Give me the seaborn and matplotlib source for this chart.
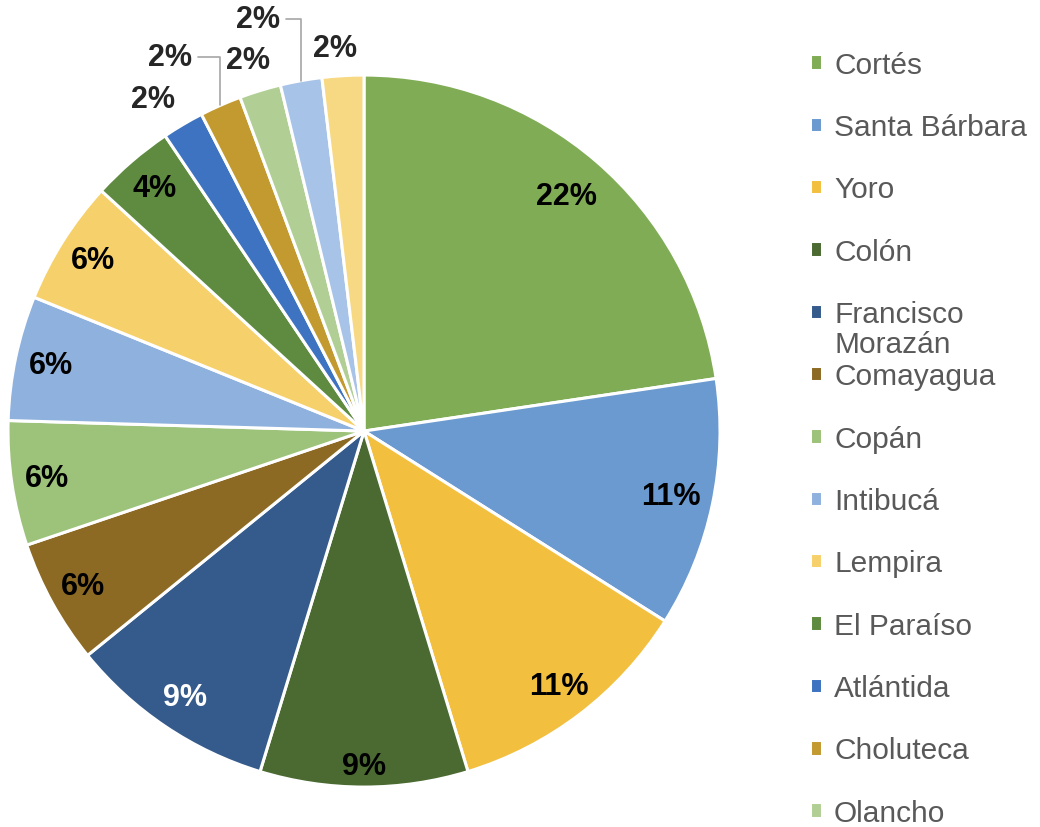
import numpy as np
import matplotlib
matplotlib.use("Agg")
import matplotlib.pyplot as plt
import seaborn as sns

# cases per department (slice sizes) and the percentages printed on the chart
departments = ["Cortés", "Santa Bárbara", "Yoro", "Colón", "Francisco Morazán",
               "Comayagua", "Copán", "Intibucá", "Lempira", "El Paraíso",
               "Atlántida", "Choluteca", "Olancho"]
cases = [12, 6, 6, 5, 5, 3, 3, 3, 3, 2, 1, 1, 1, 1, 1]
pct_labels = [22, 11, 11, 9, 9, 6, 6, 6, 6, 4, 2, 2, 2, 2, 2]

colors = ["#7fac55", "#6a9acf", "#f2bf3f", "#4b6a32", "#355b8c",
          "#8d6a24", "#9dc27a", "#8fb1de", "#f6d06a", "#5e8b3f",
          "#3d73c0", "#c39a30", "#b1cf95", "#a7c3e8", "#f8d983"]

sns.set_style("white")
plt.rcParams["font.family"] = ["Liberation Sans", "DejaVu Sans"]

fig = plt.figure(figsize=(10.4, 8.28), dpi=100)
ax = fig.add_axes([0, 0, 0.75, 1])

wedges, _ = ax.pie(cases, colors=colors, startangle=90, counterclock=False,
                   wedgeprops=dict(edgecolor="white", linewidth=2.2))
ax.set_xlim(-1.0225, 1.1685)
ax.set_ylim(-1.112, 1.2135)
ax.set_aspect("equal")
ax.axis("off")

# labels outside the small slices: index -> (radius, angle shift, leader line)
outside = {10: (1.105, 1.8, False), 11: (1.184, 3.6, True), 12: (1.092, 0.4, False),
           13: (1.195, 4.2, True), 14: (1.079, 0.9, False)}
inner_r = {0: 0.87, 1: 0.88, 3: 0.94}

for i, (w, v) in enumerate(zip(wedges, pct_labels)):
    mid = (w.theta1 + w.theta2) / 2
    txt = f"{v}%"
    if i in outside:
        r, shift, leader = outside[i]
        a = np.radians(mid + shift)
        pos = (r * np.cos(a), r * np.sin(a))
        if leader:
            m = np.radians(mid)
            ax.annotate(txt, xy=(np.cos(m), np.sin(m)), xytext=pos,
                        ha="center", va="center", fontsize=22, fontweight="bold",
                        arrowprops=dict(arrowstyle="-", color="#a6a6a6", lw=1.2,
                                        shrinkA=2, shrinkB=0,
                                        connectionstyle="angle,angleA=0,angleB=90,rad=0"))
        else:
            ax.text(*pos, txt, ha="center", va="center", fontsize=22,
                    fontweight="bold")
    else:
        r = inner_r.get(i, 0.9)
        a = np.radians(mid)
        col = "white" if i == 4 else "black"
        ax.text(r * np.cos(a), r * np.sin(a), txt, ha="center", va="center",
                fontsize=22, fontweight="bold", color=col)

labels = [d if d != "Francisco Morazán" else "Francisco" for d in departments]
leg = fig.legend(wedges[:len(departments)], labels, loc="upper left",
                 bbox_to_anchor=(0.767, 0.952), frameon=False, fontsize=21.5,
                 handlelength=0.42, handleheight=0.42, handletextpad=0.4,
                 labelspacing=1.15, borderaxespad=0)
for t in leg.get_texts():
    t.set_color("#595959")

# second line of the wrapped legend entry, placed under "Francisco"
fig.canvas.draw()
ext = leg.get_texts()[4].get_window_extent()
fx, fy = fig.transFigure.inverted().transform((ext.x0, ext.y0))
fig.text(fx, fy - 0.002, "Morazán", ha="left", va="top", fontsize=21.5,
         color="#595959")

fig.savefig("out.png", dpi=100)
